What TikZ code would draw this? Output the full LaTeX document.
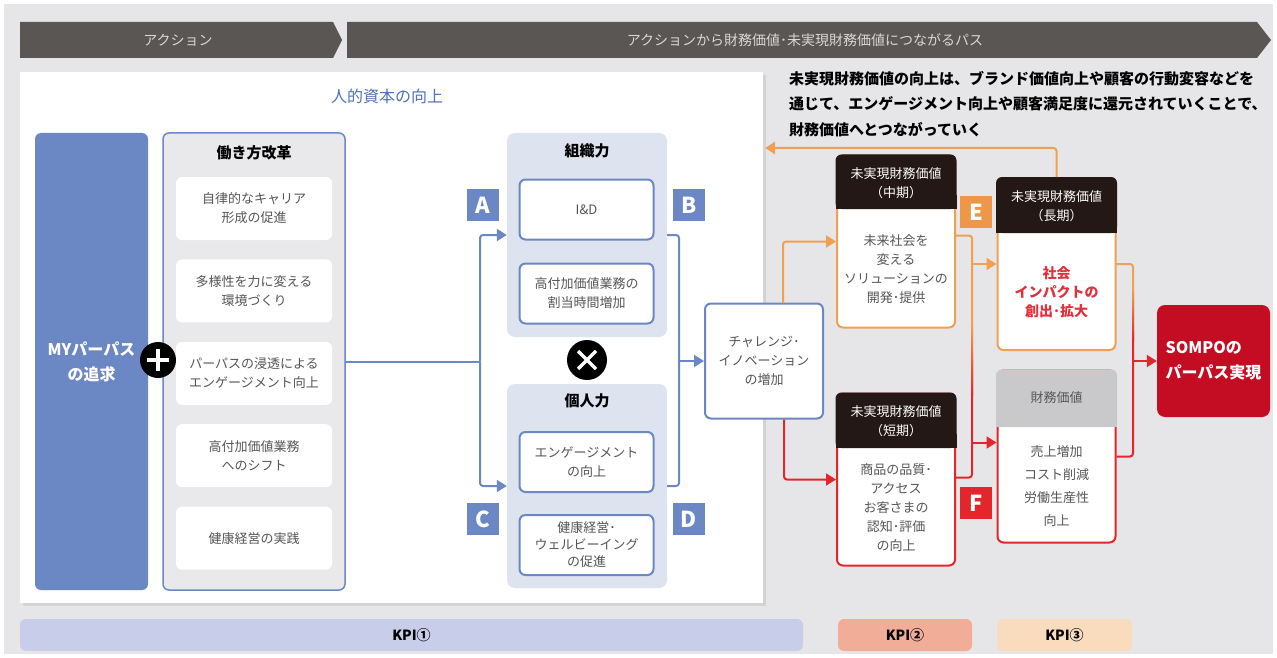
\documentclass[tikz,border=0pt]{standalone}
\usepackage{fontspec}
\setmainfont{Noto Sans CJK JP}
\usepackage{tikz}
\usetikzlibrary{arrows.meta}
\usetikzlibrary{positioning}
\usetikzlibrary{shadows}
\usetikzlibrary{calc}

\definecolor{bggray}{HTML}{E6E6E8}
\definecolor{bannergray}{HTML}{595654}
\definecolor{bannertext}{HTML}{D8D8D8}
\definecolor{kblue}{HTML}{6B87C4}
\definecolor{titleblue}{HTML}{4E72B8}
\definecolor{groupblue}{HTML}{DEE3F0}
\definecolor{workgray}{HTML}{E9E9EB}
\definecolor{txtgray}{HTML}{555555}
\definecolor{korange}{HTML}{F0A050}
\definecolor{tagorange}{HTML}{EE9748}
\definecolor{kred}{HTML}{E2262C}
\definecolor{redtext}{HTML}{E0303A}
\definecolor{hdrblack}{HTML}{231815}
\definecolor{fingray}{HTML}{C9C9CB}
\definecolor{sompored}{HTML}{C40D23}
\definecolor{kpiblue}{HTML}{C8CDEA}
\definecolor{kpired}{HTML}{F2AD98}
\definecolor{kpiorange}{HTML}{F9DCBE}

\begin{document}
\begin{tikzpicture}[x=1pt, y=-1pt, node distance=19pt, >={Triangle[length=10pt,width=12pt]}]
  \tikzstyle{every node}=[inner sep=0pt, align=center]
  \tikzstyle{small}=[font=\fontsize{13}{19}\selectfont, text=txtgray]
  \tikzstyle{head}=[font=\bfseries\fontsize{15}{18}\selectfont]
  \tikzstyle{softbox}=[small, fill=white, rounded corners=6pt, minimum width=156pt, minimum height=63pt]
  \tikzstyle{linebox}=[small, fill=white, draw=kblue, line width=2pt, rounded corners=6pt, minimum width=134pt, minimum height=60pt]
  \tikzstyle{group}=[fill=groupblue, rounded corners=8pt, minimum width=160pt, minimum height=204pt]
  \tikzstyle{tag}=[text=white, font=\bfseries\fontsize{22}{22}\selectfont, minimum size=32pt]
  \tikzstyle{card}=[fill=white, line width=2pt, rounded corners=6pt, minimum width=118pt, minimum height=172pt]
  \tikzstyle{cardhead}=[font=\fontsize{13}{19}\selectfont, text=white]
  \tikzstyle{flow}=[line width=2pt, draw=kblue, rounded corners=3pt]
  \tikzstyle{oflow}=[line width=2pt, draw=korange, rounded corners=3pt]
  \tikzstyle{rflow}=[line width=2pt, draw=kred, rounded corners=3pt]
  \tikzstyle{kpi}=[rounded corners=6pt, minimum height=32pt, font=\bfseries\fontsize{14}{16}\selectfont]

  \fill[white] (0,0) rectangle (1277,658);
  \fill[bggray] (4,4) rectangle (1273,654);
  \useasboundingbox (0,0) rectangle (1277,658);

  % banners
  \fill[bannergray] (20,22) -- (333,22) -- (342,40) -- (333,58) -- (20,58) -- cycle;
  \fill[bannergray] (347,22) -- (1257,22) -- (1271,40) -- (1257,58) -- (347,58) -- cycle;
  \node[text=bannertext, font=\fontsize{14}{16}\selectfont] (action) at (178,40) {アクション};
  \node[text=bannertext, font=\fontsize{14}{16}\selectfont] (pathway) at (805,40) {アクションから財務価値･未実現財務価値につながるパス};

  \fill[white, drop shadow={opacity=0.18, shadow xshift=3pt, shadow yshift=-3pt}] (20,72) rectangle (763,603);
  \node[text=titleblue, font=\fontsize{16}{18}\selectfont] (capital) at (387,96) {人的資本の向上};

  % left column
  \node[fill=kblue, rounded corners=6pt, minimum width=113pt, minimum height=457pt, text=white,
        font=\bfseries\fontsize{16}{25}\selectfont] (mypurpose) at (91.5,361.5) {MYパーパス\\の追求};
  \node[fill=workgray, draw=kblue, line width=1.5pt, rounded corners=6pt, minimum width=182pt,
        minimum height=457pt] (work) at (254,361.5) {};
  \node[head] (worktitle) at (254,153) {働き方改革};
  \node[softbox] (career) at (254,208.5) {自律的なキャリア\\形成の促進};
  \node[softbox, below=of career] (diversity) {多様性を力に変える\\環境づくり};
  \node[softbox, below=of diversity] (purpose) {パーパスの浸透による\\エンゲージメント向上};
  \node[softbox, below=of purpose] (shift) {高付加価値業務\\へのシフト};
  \node[softbox, below=of shift] (wellness) {健康経営の実践};
  \node[circle, fill=black, minimum size=36pt] (plus) at (158,360) {};
  \draw[white, line width=3.5pt] ($(plus)+(-11,0)$) -- ($(plus)+(11,0)$);
  \draw[white, line width=3.5pt] ($(plus)+(0,-11)$) -- ($(plus)+(0,11)$);

  % groups
  \node[group] (org) at (587,235) {};
  \node[head] (orgtitle) at (587,151) {組織力};
  \node[linebox] (inclusion) at (586.5,209.5) {I\&D};
  \node[linebox, below=22pt of inclusion] (hightime) {高付加価値業務の\\割当時間増加};
  \node[circle, fill=black, minimum size=40pt] (times) at (587,360) {};
  \draw[white, line width=3.5pt] ($(times)+(-9,-9)$) -- ($(times)+(9,9)$);
  \draw[white, line width=3.5pt] ($(times)+(-9,9)$) -- ($(times)+(9,-9)$);
  \node[group] (ind) at (587,486) {};
  \node[head] (indtitle) at (587,401) {個人力};
  \node[linebox] (engage) at (586.5,462) {エンゲージメント\\の向上};
  \node[linebox, below=21pt of engage, font=\fontsize{13}{17}\selectfont] (health) {健康経営･\\ウェルビーイング\\の促進};

  \node[tag, fill=kblue] (tagA) at (483,205) {A};
  \node[tag, fill=kblue] (tagB) at (689,205) {B};
  \node[tag, fill=kblue] (tagC) at (483,519) {C};
  \node[tag, fill=kblue] (tagD) at (689,519) {D};

  \node[linebox, minimum width=118pt, minimum height=115pt] (chal) at (764,361) {チャレンジ･\\イノベーション\\の増加};

  \coordinate (split) at (480,361.5);
  \draw[flow] (work.east) -- (split);
  \draw[flow,->] (split) |- (org.west);
  \draw[flow,->] (split) |- (ind.west);
  \coordinate (merge) at (679,361);
  \draw[flow] (org.east) -| (merge) |- (ind.east);
  \draw[flow,->] (merge) -- (chal.west);

  % value cards
  \node[card, draw=korange] (mid) at (896,241.5) {};
  \fill[hdrblack, rounded corners=6pt] (835.5,154.5) rectangle (956.5,209);
  \fill[hdrblack] (835.5,195) rectangle (956.5,209);
  \node[cardhead] (midhead) at (896,183) {未実現財務価値\\（中期）};
  \node[small] (midtext) at (896,269) {未来社会を\\変える\\ソリューションの\\開発･提供};

  \node[card, draw=kred] (short) at (896,479.5) {};
  \fill[hdrblack, rounded corners=6pt] (835.5,392.5) rectangle (956.5,448);
  \fill[hdrblack] (835.5,434) rectangle (956.5,448);
  \node[cardhead] (shorthead) at (896,421) {未実現財務価値\\（短期）};
  \node[small] (shorttext) at (896,508) {商品の品質･\\アクセス\\お客さまの\\認知･評価\\の向上};

  \node[card, draw=korange] (long) at (1056.5,264) {};
  \fill[hdrblack, rounded corners=6pt] (996,177) rectangle (1117,233);
  \fill[hdrblack] (996,219) rectangle (1117,233);
  \node[cardhead] (longhead) at (1056.5,206) {未実現財務価値\\（長期）};
  \node[text=redtext, font=\bfseries\fontsize{14}{19}\selectfont] (longtext) at (1056.5,292) {社会\\インパクトの\\創出･拡大};

  \node[card, draw=kred] (fin) at (1056.5,456.5) {};
  \fill[fingray, rounded corners=6pt] (996,369.5) rectangle (1117,427);
  \fill[fingray] (996,413) rectangle (1117,427);
  \node[small] (finhead) at (1056.5,398) {財務価値};
  \node[small, font=\fontsize{13}{23}\selectfont] (fintext) at (1056.5,486) {売上増加\\コスト削減\\労働生産性\\向上};

  \node[fill=sompored, rounded corners=8pt, minimum width=113pt, minimum height=112pt, text=white,
        font=\bfseries\fontsize{16}{25}\selectfont, align=left] (sompo) at (1213.5,361) {SOMPOの\\パーパス実現};

  \node[tag, fill=tagorange] (tagE) at (976,212) {E};
  \node[tag, fill=kred] (tagF) at (976,503) {F};

  \draw[oflow,->] ([xshift=19pt]chal.north) |- (mid.west);
  \draw[rflow,->] ([xshift=20pt]chal.south) |- (short.west);
  \coordinate (ejoin) at (972,360);
  \coordinate (finin) at ([yshift=14pt]fin.west);
  \draw[oflow] ([yshift=6pt]mid.east) -| (ejoin);
  \draw[rflow] ([yshift=2pt]short.east) -| (ejoin);
  \shade[top color=korange, bottom color=kred] (971,325) rectangle (973,395);
  \draw[oflow,->] (ejoin |- long.west) -- (long.west);
  \draw[rflow,->] (ejoin |- finin) -- (finin);
  \coordinate (sjoin) at (1133,330);
  \draw[oflow] (long.east) -| (sjoin);
  \draw[rflow] (fin.east) -| (sjoin);
  \shade[top color=korange, bottom color=kred] (1132,290) rectangle (1134,340);
  \draw[rflow,->] (sjoin |- sompo.west) -- (sompo.west);
  \coordinate (back) at (765,148);
  \draw[oflow,->] (long.north) |- (back);

  \node[anchor=north west, align=left, font=\bfseries\fontsize{15}{25.5}\selectfont] (note) at (789,71)
    {未実現財務価値の向上は、ブランド価値向上や顧客の行動変容などを\\通じて、エンゲージメント向上や顧客満足度に還元されていくことで、\\財務価値へとつながっていく};

  % KPI bars
  \node[kpi, fill=kpiblue, minimum width=783pt] (kpi1) at (411.5,635) {KPI①};
  \node[kpi, fill=kpired, minimum width=134pt] (kpi2) at (905,635) {KPI②};
  \node[kpi, fill=kpiorange, minimum width=135pt] (kpi3) at (1064.5,635) {KPI③};
\end{tikzpicture}
\end{document}
